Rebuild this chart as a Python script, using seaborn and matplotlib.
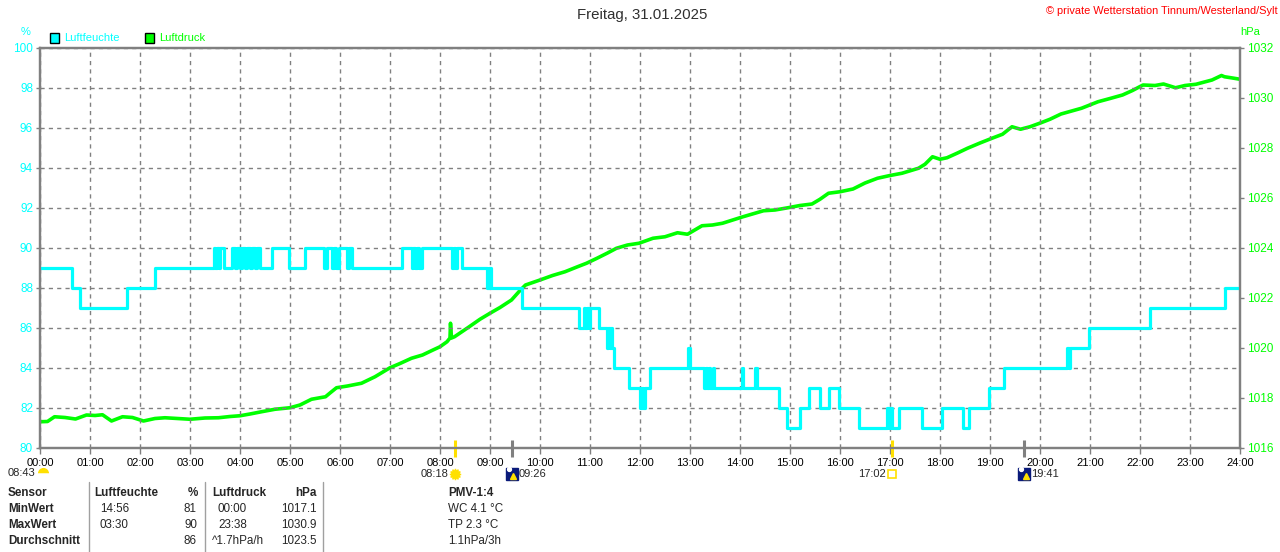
import matplotlib
matplotlib.use("Agg")
import matplotlib.pyplot as plt
import seaborn as sns
import pandas as pd

# ---------------- data ----------------
hum_time = [0.00, 0.63, 0.79, 1.73, 2.30, 3.47, 3.50, 3.53, 3.57, 3.60, 3.67,
            3.83, 3.90, 3.93, 4.00, 4.03, 4.10, 4.13, 4.20, 4.23, 4.30, 4.33,
            4.40, 4.63, 4.97, 5.30, 5.67, 5.73, 5.83, 5.87, 5.92, 5.97, 6.00,
            6.13, 6.17, 6.23, 7.23, 7.43, 7.46, 7.50, 7.54, 7.58, 7.63, 8.23,
            8.27, 8.30, 8.33, 8.45, 8.95, 8.98, 9.02, 9.64, 10.77, 10.87, 10.90,
            10.93, 10.97, 11.00, 11.17, 11.33, 11.36, 11.39, 11.42, 11.44, 11.47,
            11.77, 12.00, 12.03, 12.06, 12.10, 12.20, 12.95, 12.99, 13.27, 13.31,
            13.34, 13.38, 13.40, 13.45, 13.48, 14.03, 14.06, 14.30, 14.33, 14.77,
            14.93, 15.20, 15.38, 15.60, 15.78, 15.97, 16.37, 16.93, 16.97, 17.00,
            17.03, 17.17, 17.63, 18.03, 18.45, 18.58, 18.97, 19.27, 20.53, 20.57,
            20.60, 20.97, 22.20, 23.70, 24.00]
hum_value = [89, 88, 87, 88, 89, 90, 89, 90, 89, 90, 89,
             90, 89, 90, 89, 90, 89, 90, 89, 90, 89, 90,
             89, 90, 89, 90, 89, 90, 89, 90, 89, 90, 90,
             89, 90, 89, 90, 89, 90, 89, 90, 89, 90, 89,
             90, 89, 90, 89, 88, 89, 88, 87, 86, 87, 86,
             87, 86, 87, 86, 85, 86, 85, 86, 85, 84,
             83, 82, 83, 82, 83, 84, 85, 84, 83, 84,
             83, 84, 83, 84, 83, 84, 83, 84, 83, 82,
             81, 82, 83, 82, 83, 82, 81, 82, 81, 82,
             81, 82, 81, 82, 81, 82, 83, 84, 85, 84,
             85, 86, 87, 88, 88]

pres_time = [0.00, 0.15, 0.29, 0.50, 0.71, 0.93, 1.10, 1.25, 1.43, 1.65, 1.85,
             2.07, 2.30, 2.50, 2.75, 3.00, 3.30, 3.57, 3.80, 4.00, 4.20, 4.43,
             4.70, 5.00, 5.20, 5.43, 5.71, 5.80, 5.93, 6.15, 6.43, 6.70, 7.00,
             7.20, 7.43, 7.65, 7.86, 8.00, 8.14, 8.20, 8.21, 8.23, 8.29, 8.57,
             8.80, 9.00, 9.20, 9.43, 9.60, 9.71, 10.00, 10.25, 10.50, 10.75, 10.93,
             11.14, 11.35, 11.53, 11.75, 11.98, 12.26, 12.50, 12.75, 12.95, 13.24,
             13.45, 13.65, 14.06, 14.47, 14.70, 14.96, 15.20, 15.44, 15.60, 15.77,
             16.00, 16.26, 16.50, 16.75, 17.00, 17.24, 17.57, 17.70, 17.85, 18.00,
             18.14, 18.35, 18.55, 18.80, 19.04, 19.25, 19.44, 19.61, 19.80, 20.02,
             20.20, 20.42, 20.83, 21.16, 21.40, 21.65, 21.85, 22.06, 22.30, 22.47,
             22.71, 22.90, 23.12, 23.44, 23.63, 23.69, 23.85, 24.00]
pres_value = [1017.05, 1017.06, 1017.25, 1017.22, 1017.16, 1017.32, 1017.30, 1017.33,
              1017.08, 1017.25, 1017.22, 1017.08, 1017.18, 1017.21, 1017.18, 1017.15,
              1017.20, 1017.21, 1017.26, 1017.29, 1017.36, 1017.45, 1017.55, 1017.61,
              1017.72, 1017.95, 1018.05, 1018.20, 1018.41, 1018.48, 1018.59, 1018.85,
              1019.21, 1019.38, 1019.59, 1019.72, 1019.92, 1020.05, 1020.25, 1020.40,
              1020.99, 1020.40, 1020.45, 1020.83, 1021.15, 1021.39, 1021.62, 1021.92,
              1022.30, 1022.52, 1022.72, 1022.90, 1023.05, 1023.25, 1023.39, 1023.59,
              1023.80, 1023.99, 1024.12, 1024.19, 1024.39, 1024.45, 1024.61, 1024.55,
              1024.89, 1024.92, 1024.99, 1025.25, 1025.49, 1025.52, 1025.61, 1025.70,
              1025.76, 1025.95, 1026.19, 1026.25, 1026.36, 1026.60, 1026.79, 1026.90,
              1026.99, 1027.19, 1027.35, 1027.65, 1027.55, 1027.61, 1027.80, 1027.99,
              1028.20, 1028.39, 1028.55, 1028.85, 1028.75, 1028.85, 1029.01, 1029.15,
              1029.36, 1029.59, 1029.85, 1029.98, 1030.12, 1030.30, 1030.52, 1030.50,
              1030.56, 1030.41, 1030.50, 1030.55, 1030.72, 1030.90, 1030.85, 1030.80,
              1030.75]

hour_ticks = list(range(0, 25))
hour_labels = ["00:00", "01:00", "02:00", "03:00", "04:00", "05:00", "06:00",
               "07:00", "08:00", "09:00", "10:00", "11:00", "12:00", "13:00",
               "14:00", "15:00", "16:00", "17:00", "18:00", "19:00", "20:00",
               "21:00", "22:00", "23:00", "24:00"]
hum_ticks = [80, 82, 84, 86, 88, 90, 92, 94, 96, 98, 100]
pres_ticks = [1016, 1018, 1020, 1022, 1024, 1026, 1028, 1030, 1032]

event_times = [8.30, 9.433, 17.033, 19.683]
event_labels = ["08:18", "09:26", "17:02", "19:41"]
event_kinds = ["sunrise", "moonrise", "sunset", "moonset"]
day_length = "08:43"

title = "Freitag, 31.01.2025"
copyright_text = "\u00a9 private Wetterstation Tinnum/Westerland/Sylt"

table_header = ["Sensor", "Luftfeuchte", "%", "Luftdruck", "hPa", "PMV-1:4"]
table_rows = ["MinWert", "MaxWert", "Durchschnitt"]
hum_time_col = ["14:56", "03:30", ""]
hum_val_col = ["81", "90", "86"]
pres_time_col = ["00:00", "23:38", "^1.7hPa/h"]
pres_val_col = ["1017.1", "1030.9", "1023.5"]
pmv_col = ["WC 4.1 \u00b0C", "TP 2.3 \u00b0C", "1.1hPa/3h"]

# ---------------- style ----------------
sns.set_theme(style="white")
plt.rcParams["font.family"] = ["Liberation Sans", "DejaVu Sans"]

CYAN = "#00FFFF"
GREEN = "#00FF00"
GRAY = "#808080"

W, H = 1280, 552
fig = plt.figure(figsize=(W / 100, H / 100), dpi=100)
fig.patch.set_facecolor("white")


def fx(x):
    return x / W


def fy(y):
    return 1 - y / H


ax = fig.add_axes([fx(40), 1 - 448 / H, 1200 / W, 400 / H])
ax2 = ax.twinx()

hum_df = pd.DataFrame({"t": hum_time, "v": hum_value})
pres_df = pd.DataFrame({"t": pres_time, "p": pres_value})

sns.lineplot(data=pres_df, x="t", y="p", ax=ax2, color=GREEN, linewidth=2.6,
             estimator=None, sort=False)
sns.lineplot(data=hum_df, x="t", y="v", ax=ax, color=CYAN, linewidth=2.3,
             estimator=None, sort=False, drawstyle="steps-post")

ax.set_zorder(ax2.get_zorder() + 1)
ax.patch.set_visible(False)
ax2.patch.set_facecolor("white")

ax.set_xlim(0, 24)
ax.set_ylim(80, 100)
ax2.set_ylim(1016, 1032)

ax.set_xticks(hour_ticks)
ax.set_xticklabels(hour_labels)
ax.set_yticks(hum_ticks)
ax.set_yticklabels([str(v) for v in hum_ticks])
ax2.set_yticks(pres_ticks)
ax2.set_yticklabels([str(v) for v in pres_ticks])

for a in (ax, ax2):
    a.set_xlabel("")
    a.set_ylabel("")
    for s in a.spines.values():
        s.set_color(GRAY)
        s.set_linewidth(1.6)

ax.grid(True, color=GRAY, linestyle=(0, (3, 3)), linewidth=1.0)
ax2.grid(False)

ax.tick_params(axis="x", colors=GRAY, labelcolor="black", labelsize=8,
               length=4, width=1.0, pad=3, direction="out", bottom=True)
ax.tick_params(axis="y", colors=GRAY, labelcolor=CYAN, labelsize=8.5,
               length=3, width=1.0, pad=2, left=True)
ax2.tick_params(axis="y", colors=GRAY, labelcolor=GREEN, labelsize=8.5,
                length=3, width=1.0, pad=2, right=True)

# axis unit labels
fig.text(fx(26), fy(32), "%", color=CYAN, fontsize=8, ha="center", va="center")
fig.text(fx(1250), fy(32), "hPa", color=GREEN, fontsize=8, ha="center", va="center")

# title and copyright
fig.text(fx(642), fy(15), title, color="#303030", fontsize=10.8, ha="center", va="center")
fig.text(fx(1278), fy(11), copyright_text, color="#FF0000", fontsize=7.9,
         ha="right", va="center")

# legend
for x0, col, lab in [(50, CYAN, "Luftfeuchte"), (145, GREEN, "Luftdruck")]:
    fig.patches.append(plt.Rectangle((fx(x0), fy(43)), 9 / W, 10 / H,
                                     transform=fig.transFigure, facecolor=col,
                                     edgecolor="black", linewidth=1.0))
    fig.text(fx(x0 + 14), fy(38), lab, color=col, fontsize=8, ha="left", va="center")

# sun / moon events below the axis
xt = ax.get_xaxis_transform()
for t, lab, kind in zip(event_times, event_labels, event_kinds):
    col = "#FFE000" if kind.startswith("sun") else GRAY
    ax.plot([t, t], [0.02, -0.022], transform=xt, color=col, linewidth=2.2,
            clip_on=False, solid_capstyle="butt")
    ty = -0.065
    if kind == "sunrise":
        ax.text(t - 0.13, ty, lab, transform=xt, ha="right", va="center", fontsize=8)
        ax.plot([t], [ty], transform=xt, marker=(12, 1, 0), color="#FFE000",
                markersize=8, clip_on=False)
        ax.plot([t], [ty], transform=xt, marker="o", color="#FFE000",
                markersize=5, clip_on=False)
    elif kind == "sunset":
        ax.text(t - 0.12, ty, lab, transform=xt, ha="right", va="center", fontsize=8)
        ax.plot([t], [ty], transform=xt, marker="s", markerfacecolor="white",
                markeredgecolor="#FFE000", markeredgewidth=1.2, markersize=5.5,
                clip_on=False)
    else:
        ax.plot([t], [ty], transform=xt, marker="s", color="#0A1A7A",
                markersize=9, clip_on=False)
        ax.plot([t + 0.03], [ty - 0.004], transform=xt, marker="^", color="#FFE000",
                markersize=4.5, clip_on=False)
        ax.plot([t - 0.06], [ty + 0.012], transform=xt, marker="o", color="white",
                markersize=2.8, clip_on=False)
        ax.text(t + 0.13, ty, lab, transform=xt, ha="left", va="center", fontsize=8)

fig.text(fx(8), fy(473), day_length, fontsize=8, ha="left", va="center")
ax.plot([0.05], [-0.062], transform=xt, marker="o", fillstyle="top",
        markerfacecolor="#FFE000", markerfacecoloralt="white",
        markeredgewidth=0, markersize=8, clip_on=False)

# ---------------- table ----------------
TS = 8.4
row_y = [493, 509, 525, 541]
fig.text(fx(8), fy(row_y[0]), table_header[0], fontsize=TS, weight="bold", va="center")
fig.text(fx(94), fy(row_y[0]), table_header[1], fontsize=TS, weight="bold", va="center")
fig.text(fx(198), fy(row_y[0]), table_header[2], fontsize=TS, weight="bold",
         va="center", ha="right")
fig.text(fx(212), fy(row_y[0]), table_header[3], fontsize=TS, weight="bold", va="center")
fig.text(fx(317), fy(row_y[0]), table_header[4], fontsize=TS, weight="bold",
         va="center", ha="right")
fig.text(fx(448), fy(row_y[0]), table_header[5], fontsize=TS, weight="bold", va="center")

for i, name in enumerate(table_rows):
    y = fy(row_y[i + 1])
    fig.text(fx(8), y, name, fontsize=TS, weight="bold", va="center")
    fig.text(fx(100), y, hum_time_col[i], fontsize=TS, va="center")
    fig.text(fx(197), y, hum_val_col[i], fontsize=TS, va="center", ha="right")
    fig.text(fx(218) if not pres_time_col[i].startswith("^") else fx(212), y,
             pres_time_col[i], fontsize=TS, va="center")
    fig.text(fx(317), y, pres_val_col[i], fontsize=TS, va="center", ha="right")
    fig.text(fx(448), y, pmv_col[i], fontsize=TS, va="center")

for xs in (89, 205, 323):
    fig.add_artist(plt.Line2D([fx(xs), fx(xs)], [fy(482), fy(552)],
                              transform=fig.transFigure, color="#A0A0A0", linewidth=1.0))

fig.savefig("out.png", dpi=100, facecolor="white")
